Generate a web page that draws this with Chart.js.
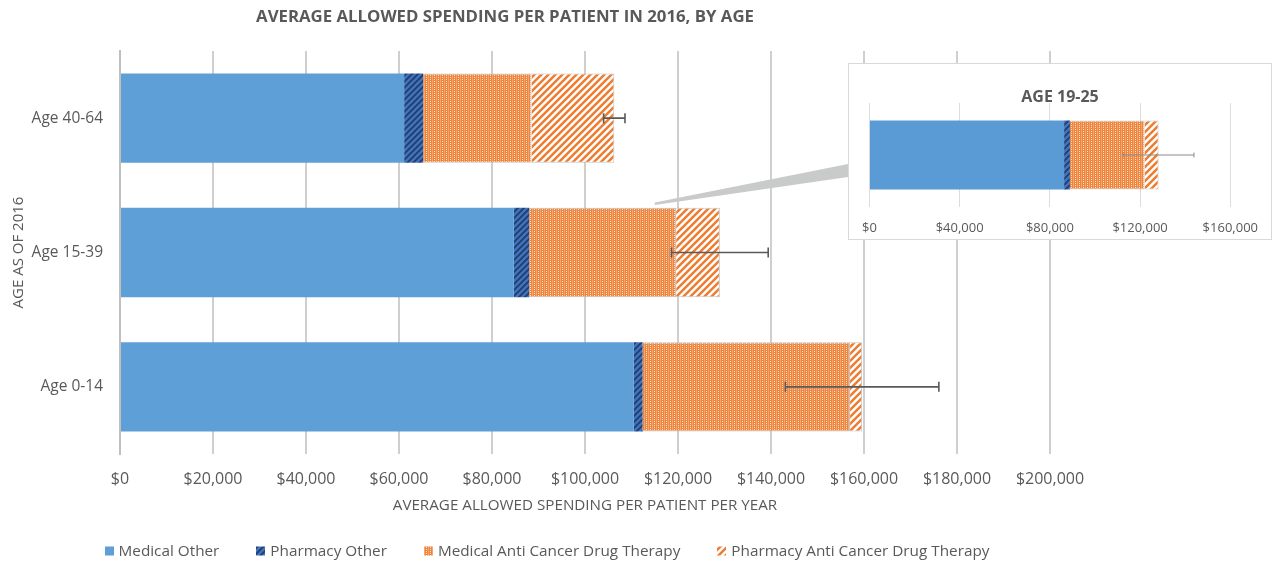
<!DOCTYPE html>
<html><head><meta charset="utf-8">
<script src="https://cdn.jsdelivr.net/npm/chart.js@4"></script>
<style>
html,body{margin:0;padding:0;background:#fff;}
#wrap{position:relative;width:1276px;height:562px;overflow:hidden;}
#main{position:absolute;left:0;top:0;}
#insetBox{position:absolute;left:848px;top:63px;width:422px;height:175px;border:1px solid #d9d9d9;background:#fff;}
#inset{display:block;}
</style></head><body>
<div id="wrap">
<canvas id="main" width="1276" height="562"></canvas>
<div id="insetBox"><canvas id="inset" width="422" height="175"></canvas></div>
</div>
<script>
// ---------- data ----------
const categories = ['Age 40-64', 'Age 15-39', 'Age 0-14'];
const medicalOther = [61100, 84700, 110500];
const pharmacyOther = [4100, 3300, 1900];
const medicalACDT = [23300, 31600, 44600];
const pharmacyACDT = [17800, 9400, 2600];
const errorMargin = [2300, 10400, 16500];
const xMax = 200000;
const xStep = 20000;

const insetCategories = ['Age 19-25'];
const insetMedicalOther = [86300];
const insetPharmacyOther = [2600];
const insetMedicalACDT = [33100];
const insetPharmacyACDT = [6200];
const insetErrorMargin = [15700];
const insetMax = 160000;
const insetStep = 40000;

const seriesLabels = ['Medical Other', 'Pharmacy Other', 'Medical Anti Cancer Drug Therapy', 'Pharmacy Anti Cancer Drug Therapy'];
const mainTitle = 'AVERAGE ALLOWED SPENDING PER PATIENT IN 2016, BY AGE';
const insetTitle = 'AGE 19-25';
const xAxisTitle = 'AVERAGE ALLOWED SPENDING PER PATIENT PER YEAR';
const yAxisTitle = 'AGE AS OF 2016';

// ---------- styles ----------
const FONT = "'Open Sans', sans-serif";
const TXT = '#595959';
const ctxMain = document.getElementById('main').getContext('2d');
const ctxInset = document.getElementById('inset').getContext('2d');

function stripePattern(ctx, size, bg, fg, lw) {
  const c = document.createElement('canvas'); c.width = size; c.height = size;
  const g = c.getContext('2d');
  g.fillStyle = bg; g.fillRect(0, 0, size, size);
  g.strokeStyle = fg; g.lineWidth = lw; g.lineCap = 'square';
  g.beginPath();
  g.moveTo(0, size); g.lineTo(size, 0);
  g.moveTo(-size / 2, size / 2); g.lineTo(size / 2, -size / 2);
  g.moveTo(size / 2, size * 1.5); g.lineTo(size * 1.5, size / 2);
  g.stroke();
  return ctx.createPattern(c, 'repeat');
}
function dotPattern(ctx) {
  const c = document.createElement('canvas'); c.width = 4; c.height = 4;
  const g = c.getContext('2d');
  g.fillStyle = '#ef843c'; g.fillRect(0, 0, 4, 4);
  g.fillStyle = '#f4a46e'; g.fillRect(0, 0, 1, 4);
  g.fillStyle = '#fde3d0'; g.fillRect(2, 1, 1, 1); g.fillRect(2, 3, 1, 1);
  return ctx.createPattern(c, 'repeat');
}
function makeFills(ctx, blue) {
  return [blue,
    stripePattern(ctx, 6, '#4273ba', '#1d3b6c', 1.6),
    dotPattern(ctx),
    stripePattern(ctx, 7, '#ffffff', '#ed7d31', 2.5)];
}
const mainFills = makeFills(ctxMain, '#5f9fd7');
const insetFills = makeFills(ctxInset, '#5b9bd5');

function sumAt(arrs, i) { return arrs.reduce((s, a) => s + a[i], 0); }
const money = v => '$' + Number(v).toLocaleString('en-US');

function errorBarPlugin(series, errors, color, lw, cap) {
  return {
    id: 'errbars',
    afterDatasetsDraw(chart) {
      const { ctx, scales: { x, y } } = chart;
      ctx.save(); ctx.strokeStyle = color; ctx.lineWidth = lw;
      errors.forEach((e, i) => {
        const t = sumAt(series, i);
        const x1 = x.getPixelForValue(t - e), x2 = x.getPixelForValue(t + e), yy = y.getPixelForValue(i);
        ctx.beginPath();
        ctx.moveTo(x1, yy); ctx.lineTo(x2, yy);
        ctx.moveTo(x1, yy - cap); ctx.lineTo(x1, yy + cap);
        ctx.moveTo(x2, yy - cap); ctx.lineTo(x2, yy + cap);
        ctx.stroke();
      });
      ctx.restore();
    }
  };
}

function datasetsFrom(arrs, fills) {
  return arrs.map((a, k) => ({
    label: seriesLabels[k], data: a, backgroundColor: fills[k],
    borderColor: k >= 2 ? 'rgba(190,190,190,0.9)' : 'rgba(0,0,0,0)',
    borderWidth: k >= 2 ? 1 : 0, borderSkipped: 'start'
  }));
}

const mainSeries = [medicalOther, pharmacyOther, medicalACDT, pharmacyACDT];
const insetSeries = [insetMedicalOther, insetPharmacyOther, insetMedicalACDT, insetPharmacyACDT];

const mainDecor = {
  id: 'mainDecor',
  afterDatasetsDraw(chart) {
    const { ctx, scales: { x, y } } = chart;
    // callout wedge from Age 15-39 bar towards the inset panel
    const sx = x.getPixelForValue(115000);
    const sy = y.getPixelForValue(1) - 49;
    ctx.save();
    ctx.fillStyle = '#c9cbcb';
    ctx.beginPath();
    ctx.moveTo(sx, sy - 1); ctx.lineTo(848, 164); ctx.lineTo(848, 177); ctx.lineTo(sx, sy + 1.5);
    ctx.closePath(); ctx.fill();
    ctx.restore();
  },
  afterDraw(chart) {
    const ctx = chart.ctx;
    ctx.save();
    ctx.fillStyle = TXT;
    ctx.font = `bold 16.8px ${FONT}`;
    ctx.textAlign = 'center'; ctx.textBaseline = 'middle';
    ctx.fillText(mainTitle, 505, 17);
    // legend
    ctx.font = `15.3px ${FONT}`;
    ctx.textAlign = 'left';
    const items = chart.data.datasets.map(d => ({ label: d.label, fill: d.backgroundColor, w: ctx.measureText(d.label).width }));
    const box = 9, gapBox = 5, gapItem = 37;
    const total = items.reduce((s, it) => s + box + gapBox + it.w, 0) + gapItem * (items.length - 1);
    let lx = 547 - total / 2; const yc = 551;
    items.forEach(it => {
      ctx.fillStyle = it.fill; ctx.fillRect(Math.round(lx), yc - 4.5, box, box);
      lx += box + gapBox;
      ctx.fillStyle = TXT; ctx.fillText(it.label, lx, yc + 1);
      lx += it.w + gapItem;
    });
    ctx.restore();
  }
};

new Chart(ctxMain, {
  type: 'bar',
  data: { labels: categories, datasets: datasetsFrom(mainSeries, mainFills) },
  options: {
    indexAxis: 'y', responsive: false, animation: false,
    datasets: { bar: { barPercentage: 0.665, categoryPercentage: 1 } },
    layout: { padding: { top: 51, right: 226, bottom: 0, left: 0 } },
    plugins: { legend: { display: false }, title: { display: false }, tooltip: { enabled: false } },
    scales: {
      x: {
        stacked: true, min: 0, max: xMax,
        border: { display: false },
        grid: { color: '#cfcfcf', lineWidth: 2, drawTicks: false },
        ticks: { stepSize: xStep, autoSkip: false, maxRotation: 0, padding: 16, color: TXT, font: { family: FONT, size: 16 }, callback: money },
        title: { display: true, text: xAxisTitle, color: TXT, font: { family: FONT, size: 15.2 }, padding: { top: 0, bottom: 47 } },
        afterFit(s) { s.height = 108; }
      },
      y: {
        stacked: true,
        grid: { display: false, drawTicks: false },
        border: { display: true, color: '#bfbfbf', width: 2 },
        ticks: { padding: 17, color: TXT, font: { family: FONT, size: 15.5 } },
        title: { display: true, text: yAxisTitle, color: TXT, font: { family: FONT, size: 15 }, padding: { top: 10, bottom: 0 } },
        afterFit(s) { s.width = 120; }
      }
    }
  },
  plugins: [errorBarPlugin(mainSeries, errorMargin, '#595959', 1.6, 5), mainDecor]
});

const insetDecor = {
  id: 'insetDecor',
  afterDraw(chart) {
    const ctx = chart.ctx;
    ctx.save(); ctx.fillStyle = TXT;
    ctx.font = `bold 16px ${FONT}`;
    ctx.textAlign = 'center'; ctx.textBaseline = 'middle';
    ctx.fillText(insetTitle, chart.width / 2, 33);
    ctx.restore();
  }
};

new Chart(ctxInset, {
  type: 'bar',
  data: { labels: insetCategories, datasets: datasetsFrom(insetSeries, insetFills) },
  options: {
    indexAxis: 'y', responsive: false, animation: false,
    datasets: { bar: { barPercentage: 0.663, categoryPercentage: 1 } },
    layout: { padding: { top: 39, right: 37, bottom: 0, left: 20 } },
    plugins: { legend: { display: false }, title: { display: false }, tooltip: { enabled: false } },
    scales: {
      x: {
        stacked: true, min: 0, max: insetMax,
        border: { display: false },
        grid: { color: '#dcdcdc', lineWidth: 1, drawTicks: false },
        ticks: { stepSize: insetStep, autoSkip: false, maxRotation: 0, padding: 13, color: TXT, font: { family: FONT, size: 13 }, callback: money },
        afterFit(s) { s.height = 32; }
      },
      y: { stacked: true, display: false }
    }
  },
  plugins: [errorBarPlugin(insetSeries, insetErrorMargin, '#8a8a8a', 1, 2.5), insetDecor]
});
</script>
</body></html>
